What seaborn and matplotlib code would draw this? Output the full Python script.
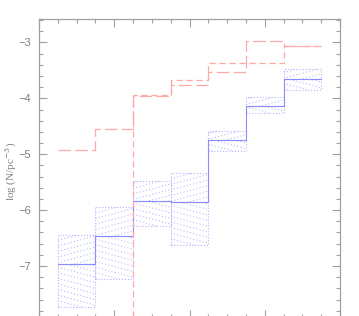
import numpy as np
import pandas as pd
import matplotlib
matplotlib.use("Agg")
import matplotlib.pyplot as plt
import seaborn as sns
from matplotlib.patches import Rectangle

# ---- data ----
bin_edges = [1.25, 1.75, 2.25, 2.75, 3.25, 3.75, 4.25, 4.75]
red_a = [-4.93, -4.55, -3.95, -3.76, -3.52, -2.97, -3.06]
red_b_edges = [2.25, 2.75, 3.25, 3.75, 4.25, 4.75]
red_b = [-3.94, -3.67, -3.36, -3.36, -3.06]
red_b_floor = -9.0
blue_med = [-6.96, -6.47, -5.83, -5.86, -4.75, -4.13, -3.66]
blue_hi = [-6.45, -5.95, -5.47, -5.34, -4.58, -3.98, -3.47]
blue_lo = [-7.74, -7.24, -6.29, -6.63, -4.94, -4.27, -3.85]
yticks = [-7, -6, -5, -4, -3]
ytick_labels = ["\u22127", "\u22126", "\u22125", "\u22124", "\u22123"]
ylabel = r"log (N/pc$^{-3}$)"

sns.set_style("white")
plt.rcParams['font.family'] = ['Liberation Sans', 'DejaVu Sans']
plt.rcParams['mathtext.fontset'] = 'dejavuserif'

fig = plt.figure(figsize=(3.59, 3.16), dpi=100)
ax = fig.add_axes([39/359, -2/316, (340-39)/359, (316-19+2)/316])

gray = '#a0a0a0'
pink = '#ffa8a8'
blue = '#8c8cff'
lblue = '#b4b4ff'

def step_df(edges, vals):
    return pd.DataFrame({'x': edges, 'y': list(vals) + [vals[-1]]})

# blue error boxes with fan-like dotted hatching
k = 0.36
for i in range(len(blue_med)):
    x0, x1 = bin_edges[i], bin_edges[i + 1]
    w = x1 - x0
    for (ya, yb, sgn) in [(blue_med[i], blue_hi[i], 1), (blue_lo[i], blue_med[i], -1)]:
        rect = Rectangle((x0, ya), w, yb - ya, fill=False, edgecolor=lblue,
                         linestyle=':', linewidth=0.8)
        ax.add_patch(rect)
        clip = Rectangle((x0, ya), w, yb - ya, transform=ax.transData)
        offs = np.arange(ya - k * w - 0.2, yb + k * w + 0.2, 0.1)
        xs = np.array([x0, x1])
        for o in offs:
            ys = o + sgn * k * (xs - x0)
            ln, = ax.plot(xs, ys, color=lblue, linestyle=(0, (1.2, 2.2)), linewidth=0.7)
            ln.set_clip_path(clip)

# blue median step
sns.lineplot(data=step_df(bin_edges, blue_med), x='x', y='y', ax=ax,
             drawstyle='steps-post', color=blue, linewidth=0.8, estimator=None, sort=False)

# red lines
sns.lineplot(data=step_df(bin_edges, red_a), x='x', y='y', ax=ax,
             drawstyle='steps-post', color=pink, linewidth=0.9, estimator=None, sort=False,
             linestyle=(0, (10, 3.5)))
dfb = step_df(red_b_edges, red_b)
dfb = pd.concat([pd.DataFrame({'x': [red_b_edges[0]], 'y': [red_b_floor]}), dfb], ignore_index=True)
sns.lineplot(data=dfb, x='x', y='y', ax=ax, drawstyle='steps-post', color=pink,
             linewidth=0.9, estimator=None, sort=False, linestyle=(0, (5, 3)))

ax.set_xlim(1.0, 5.0)
ax.set_ylim(-7.93, -2.58)
ax.set_xticks([1, 2, 3, 4, 5])
ax.set_xticks(np.arange(1.0, 5.01, 0.25), minor=True)
ax.set_xticklabels([])
ax.set_yticks(yticks)
ax.set_yticklabels(ytick_labels)
ax.set_yticks(np.arange(-7.8, -2.59, 0.2), minor=True)
ax.tick_params(which='both', direction='in', top=True, right=True, bottom=True, left=True,
               color=gray, labelcolor='#808080', labelsize=8, width=0.8)
ax.tick_params(which='major', length=6, pad=6)
ax.tick_params(which='minor', length=3)
for s in ax.spines.values():
    s.set_color(gray)
    s.set_linewidth(0.9)
ax.set_xlabel('')
ax.set_ylabel(ylabel, fontsize=8, color='#808080', family=['Liberation Serif', 'DejaVu Serif'])
ax.yaxis.set_label_coords(-0.068, 0.49)
ax.grid(False)
fig.savefig('out.png', dpi=100)
